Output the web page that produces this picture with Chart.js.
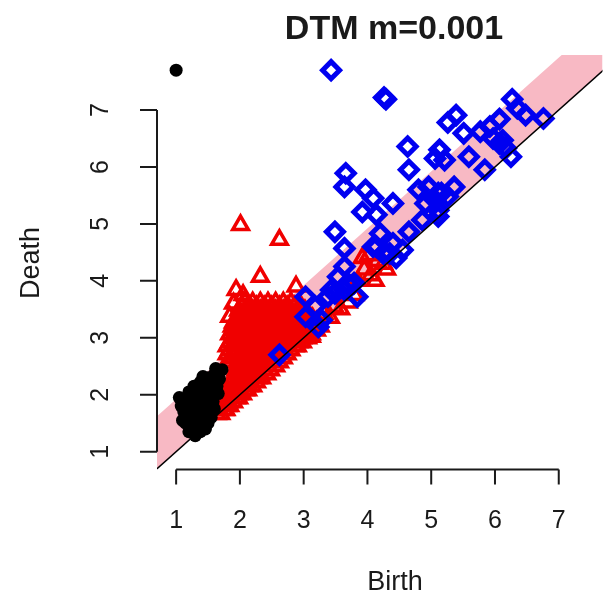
<!DOCTYPE html>
<html><head><meta charset="utf-8">
<script src="https://cdn.jsdelivr.net/npm/chart.js@4.4.1/dist/chart.umd.min.js"></script>
<style>html,body{margin:0;padding:0;background:#fff;overflow:hidden}</style>
</head><body>
<canvas id="c" width="616" height="599"></canvas>
<script>
const titleText = 'DTM m=0.001';
const xLabel = 'Birth';
const yLabel = 'Death';
const xTicks = [1, 2, 3, 4, 5, 6, 7];
const yTicks = [1, 2, 3, 4, 5, 6, 7];
const xRange = [0.70, 7.686];
const yRange = [0.687, 7.966];
const bandWidth = 0.92;
const diagonal = [[0, 0], [9, 9]];
const bandTop = [[0, 0 + bandWidth], [9, 9 + bandWidth]];

// dimension 0 (black dots)
const dim0 = [
  [1.00,7.70],
  [1.12,1.90],[1.12,1.70],[1.15,1.50],[1.20,1.35],[1.30,1.28],[1.38,1.35],[1.20,2.05],[1.28,2.15],
  [1.38,2.22],[1.50,2.30],[1.60,2.36],[1.72,2.44],[1.68,2.28],[1.64,2.15],[1.60,2.00],[1.55,1.85],
  [1.50,1.70],[1.45,1.55],[1.40,1.45],[1.30,1.45],[1.25,1.60],[1.20,1.75],[1.25,1.90],[1.35,2.00],
  [1.45,2.10],[1.55,2.20],[1.35,1.80],[1.45,1.90],[1.40,1.65],[1.50,2.00],[1.30,1.70],[1.55,1.60],
  [1.60,1.75],[1.66,2.02],[1.35,1.55],[1.08,1.80],[1.15,1.60],[1.42,2.32],[1.25,1.40],
  [1.58,1.88],[1.50,1.50],[1.46,1.40],[1.62,2.46],[1.05,1.95],[1.10,1.55]
];

// dimension 1 (red triangles)
const dim1 = [
  [2.01,4.98],[2.62,4.72],[2.32,4.07],[1.94,3.84],[2.88,3.90],[1.84,3.37],[2.05,3.75],[1.90,3.60],
  [2.08,3.62],[2.20,3.62],[2.32,3.62],[2.44,3.62],[2.56,3.62],[2.68,3.62],[2.80,3.62],
  [2.02,3.55],[2.14,3.55],[2.26,3.55],[2.38,3.55],[2.50,3.55],[2.62,3.55],[2.74,3.55],[2.86,3.55],[2.96,3.55],
  [1.98,3.48],[2.08,3.48],[2.20,3.48],[2.32,3.48],[2.44,3.48],[2.56,3.48],[2.68,3.48],[2.80,3.48],[2.92,3.48],[3.02,3.48],
  [2.02,3.41],[2.14,3.41],[2.26,3.41],[2.38,3.41],[2.50,3.41],[2.62,3.41],[2.74,3.41],[2.86,3.41],[2.98,3.41],[3.08,3.41],
  [1.96,3.34],[2.08,3.34],[2.20,3.34],[2.32,3.34],[2.44,3.34],[2.56,3.34],[2.68,3.34],[2.80,3.34],[2.92,3.34],[3.04,3.34],[3.14,3.34],
  [1.90,3.27],[2.02,3.27],[2.14,3.27],[2.26,3.27],[2.38,3.27],[2.50,3.27],[2.62,3.27],[2.74,3.27],[2.86,3.27],[2.98,3.27],[3.10,3.27],[3.20,3.27],
  [1.88,3.20],[1.96,3.20],[2.08,3.20],[2.20,3.20],[2.32,3.20],[2.44,3.20],[2.56,3.20],[2.68,3.20],[2.80,3.20],[2.92,3.20],[3.04,3.20],[3.16,3.20],[3.26,3.20],
  [1.90,3.13],[2.02,3.13],[2.14,3.13],[2.26,3.13],[2.38,3.13],[2.50,3.13],[2.62,3.13],[2.74,3.13],[2.86,3.13],[2.98,3.13],[3.10,3.13],[3.20,3.13],
  [1.84,3.06],[1.96,3.06],[2.08,3.06],[2.20,3.06],[2.32,3.06],[2.44,3.06],[2.56,3.06],[2.68,3.06],[2.80,3.06],[2.92,3.06],[3.04,3.06],[3.12,3.06],
  [1.90,2.99],[2.02,2.99],[2.14,2.99],[2.26,2.99],[2.38,2.99],[2.50,2.99],[2.62,2.99],[2.74,2.99],[2.86,2.99],[2.98,2.99],[3.06,2.99],
  [1.84,2.92],[1.96,2.92],[2.08,2.92],[2.20,2.92],[2.32,2.92],[2.44,2.92],[2.56,2.92],[2.68,2.92],[2.80,2.92],[2.92,2.92],[2.98,2.92],
  [1.80,2.85],[1.90,2.85],[2.02,2.85],[2.14,2.85],[2.26,2.85],[2.38,2.85],[2.50,2.85],[2.62,2.85],[2.74,2.85],[2.86,2.85],[2.90,2.85],
  [1.84,2.78],[1.96,2.78],[2.08,2.78],[2.20,2.78],[2.32,2.78],[2.44,2.78],[2.56,2.78],[2.68,2.78],[2.80,2.78],
  [1.80,2.71],[1.90,2.71],[2.02,2.71],[2.14,2.71],[2.26,2.71],[2.38,2.71],[2.50,2.71],[2.62,2.71],[2.74,2.71],
  [1.84,2.64],[1.96,2.64],[2.08,2.64],[2.20,2.64],[2.32,2.64],[2.44,2.64],[2.56,2.64],[2.68,2.64],
  [1.86,2.57],[1.96,2.57],[2.02,2.57],[2.14,2.57],[2.26,2.57],[2.38,2.57],[2.50,2.57],[2.62,2.57],
  [1.96,2.50],[2.08,2.50],[2.20,2.50],[2.32,2.50],[2.44,2.50],[2.56,2.50],
  [1.94,2.43],[2.02,2.43],[2.14,2.43],[2.26,2.43],[2.38,2.43],[2.48,2.43],
  [1.92,2.36],[2.02,2.36],[2.12,2.36],[2.22,2.36],[2.32,2.36],[2.42,2.36],
  [1.90,2.29],[2.00,2.29],[2.10,2.29],[2.20,2.29],[2.28,2.29],[2.34,2.29],
  [1.86,2.22],[1.96,2.22],[2.06,2.22],[2.16,2.22],[2.26,2.22],
  [1.84,2.15],[1.94,2.15],[2.04,2.15],[2.14,2.15],[2.20,2.15],
  [1.80,2.08],[1.90,2.08],[2.00,2.08],[2.08,2.08],[2.12,2.08],
  [1.78,2.01],[1.88,2.01],[1.98,2.01],[2.04,2.01],
  [1.76,1.94],[1.86,1.94],[1.94,1.94],[1.98,1.94],
  [1.74,1.87],[1.82,1.87],[1.90,1.87],
  [1.72,1.80],[1.80,1.80],[1.84,1.80],
  [1.68,1.73],[1.76,1.73],[1.78,1.73],
  [1.64,1.66],[1.70,1.66],
  [3.00,3.10],[3.12,3.02],[3.20,3.28],[3.32,3.42],[3.42,3.35],[3.48,3.55],[3.58,3.50],[3.85,4.00],
  [3.95,4.20],[4.05,4.10],[4.15,4.35],[4.25,4.30],[3.92,4.40],[4.02,4.45],[4.30,4.20],[4.12,4.00],
  [3.70,3.62],[3.80,3.75]
];

// dimension 2 (blue diamonds)
const dim2 = [
  [3.43,7.70],[4.26,7.22],[4.29,7.19],[6.27,7.19],[6.35,7.03],[6.48,6.91],[6.76,6.85],[6.07,6.84],
  [5.39,6.91],[5.26,6.78],[5.51,6.59],[5.77,6.62],[5.92,6.71],[5.97,6.50],[6.07,6.41],[6.17,6.33],
  [6.25,6.18],[6.12,6.47],[5.59,6.18],[5.84,5.95],[4.63,6.36],[4.65,5.95],[5.13,6.30],[5.06,6.15],
  [5.21,6.12],[3.66,5.89],[3.64,5.65],[3.97,5.60],[4.09,5.45],[3.92,5.21],[4.14,5.16],[4.40,5.36],
  [4.80,5.60],[4.96,5.65],[5.11,5.54],[5.36,5.65],[5.26,5.48],[5.06,5.42],[4.91,5.36],[5.11,5.24],
  [4.86,5.07],[5.11,5.13],[5.16,5.54],[3.49,4.86],[3.64,4.57],[4.20,4.83],[4.09,4.60],[4.65,4.86],
  [4.40,4.66],[4.25,4.48],[4.45,4.40],[4.55,4.54],[4.35,4.48],[4.14,4.60],[3.54,4.07],[3.69,3.96],
  [3.43,3.84],[3.64,4.25],[3.79,3.96],[3.64,3.84],[3.38,3.72],[3.49,3.78],[3.84,3.72],[3.03,3.72],
  [3.18,3.55],[3.03,3.37],[3.28,3.31],[3.23,3.19],[2.62,2.70]
];

const toXY = p => ({x: p[0], y: p[1]});
const FONT = '"Liberation Sans", Arial, Helvetica, sans-serif';
const INK = '#1a1a1a';

const rAxes = {
  id: 'rAxes',
  afterDraw(chart) {
    const {ctx, chartArea: a, scales: {x, y}} = chart;
    ctx.save();
    ctx.strokeStyle = INK; ctx.fillStyle = INK; ctx.lineWidth = 2;
    const yb = a.bottom;
    ctx.beginPath();
    ctx.moveTo(x.getPixelForValue(xTicks[0]), yb);
    ctx.lineTo(x.getPixelForValue(xTicks[xTicks.length - 1]), yb);
    xTicks.forEach(t => { const p = x.getPixelForValue(t); ctx.moveTo(p, yb); ctx.lineTo(p, yb + 15); });
    const xl = a.left;
    ctx.moveTo(xl, y.getPixelForValue(yTicks[0]));
    ctx.lineTo(xl, y.getPixelForValue(yTicks[yTicks.length - 1]));
    yTicks.forEach(t => { const p = y.getPixelForValue(t); ctx.moveTo(xl, p); ctx.lineTo(xl - 17, p); });
    ctx.stroke();

    ctx.textAlign = 'center'; ctx.textBaseline = 'middle';
    ctx.font = '25px ' + FONT;
    xTicks.forEach(t => ctx.fillText(String(t), x.getPixelForValue(t), yb + 52));
    yTicks.forEach(t => {
      ctx.save();
      ctx.translate(xl - 56, y.getPixelForValue(t));
      ctx.rotate(-Math.PI / 2);
      ctx.fillText(String(t), 0, 0);
      ctx.restore();
    });
    ctx.font = '27px ' + FONT;
    ctx.fillText(xLabel, 395, 583);
    ctx.save();
    ctx.translate(32, 263);
    ctx.rotate(-Math.PI / 2);
    ctx.fillText(yLabel, 0, 0);
    ctx.restore();
    ctx.font = 'bold 34px ' + FONT;
    ctx.fillText(titleText, 394, 30);
    ctx.restore();
  }
};

new Chart(document.getElementById('c'), {
  type: 'scatter',
  data: {
    datasets: [
      {label: 'diag-base', data: diagonal.map(toXY), showLine: true, pointRadius: 0, borderWidth: 0,
       borderColor: 'rgba(0,0,0,0)', fill: false, order: 6},
      {label: 'band', data: bandTop.map(toXY), showLine: true, pointRadius: 0, borderWidth: 0,
       borderColor: 'rgba(0,0,0,0)', backgroundColor: '#F8B9C4', fill: 0, order: 5},
      {label: 'dim0', data: dim0.map(toXY), pointStyle: 'circle', pointRadius: 6.5,
       backgroundColor: '#000', borderColor: '#000', borderWidth: 0, order: 1.5, clip: false},
      {label: 'dim1', data: dim1.map(toXY), pointStyle: 'triangle', pointRadius: 9,
       backgroundColor: 'rgba(0,0,0,0)', borderColor: '#F00000', borderWidth: 3.5, order: 2, clip: false},
      {label: 'dim2', data: dim2.map(toXY), pointStyle: 'rectRot', pointRadius: 8.5,
       backgroundColor: 'rgba(0,0,0,0)', borderColor: '#0000F0', borderWidth: 5, order: 1, clip: false},
      {label: 'diagonal', data: diagonal.map(toXY), showLine: true, pointRadius: 0, borderWidth: 1.5,
       borderColor: '#000', fill: false, order: 0}
    ]
  },
  options: {
    responsive: false,
    maintainAspectRatio: false,
    animation: false,
    events: [],
    layout: {padding: {left: 157, right: 0, top: 55, bottom: 129.5}},
    plugins: {legend: {display: false}, tooltip: {enabled: false}, title: {display: false}},
    scales: {
      x: {type: 'linear', min: xRange[0], max: xRange[1], display: false},
      y: {type: 'linear', min: yRange[0], max: yRange[1], display: false}
    }
  },
  plugins: [rAxes]
});
</script>
</body></html>
